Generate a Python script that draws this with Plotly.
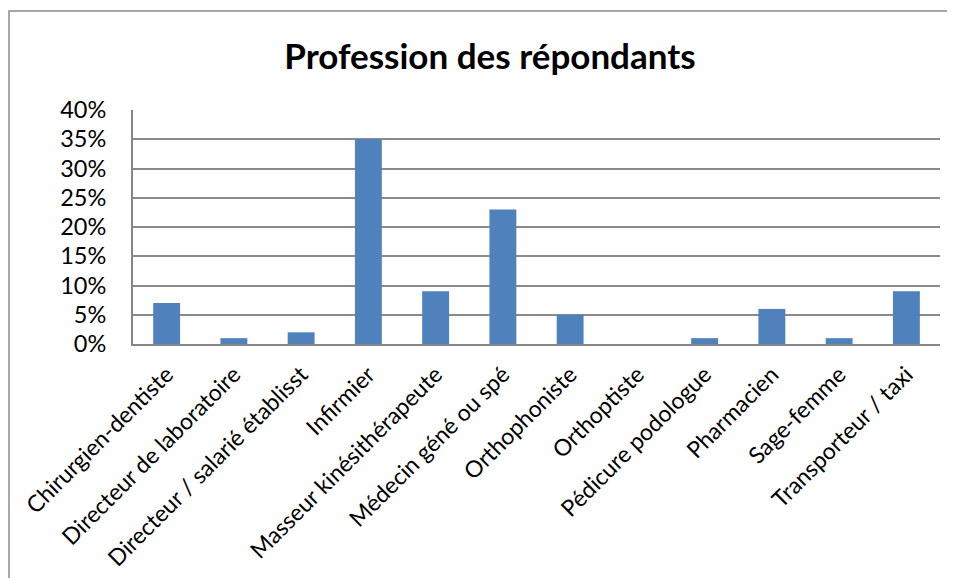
import plotly.graph_objects as go

categories = ["Chirurgien-dentiste", "Directeur de laboratoire", "Directeur / salarié établisst",
              "Infirmier", "Masseur kinésithérapeute", "Médecin géné ou spé", "Orthophoniste",
              "Orthoptiste", "Pédicure podologue", "Pharmacien", "Sage-femme", "Transporteur / taxi"]
values = [0.07, 0.01, 0.02, 0.35, 0.09, 0.23, 0.05, 0.0, 0.01, 0.06, 0.01, 0.09]
y_ticks = [0, 0.05, 0.10, 0.15, 0.20, 0.25, 0.30, 0.35, 0.40]
y_tick_labels = ["0%", "5%", "10%", "15%", "20%", "25%", "30%", "35%", "40%"]

FONT = "Lato"
OFF = 8  # page body margin
W, H = 955 - OFF, 578 - OFF
L, R, T, B = 133 - OFF, 15, 110 - OFF, 234
pw = W - L - R
ph = H - T - B

fig = go.Figure(go.Bar(
    x=categories, y=values,
    marker=dict(color="#4F81BD", line=dict(color="#7da1d4", width=0)),
))

fig.update_layout(
    width=W, height=H,
    margin=dict(l=L, r=R, t=T, b=B),
    paper_bgcolor="white", plot_bgcolor="white",
    bargap=0.6,
    showlegend=False,
    font=dict(family=FONT, color="black", size=23),
    title=dict(text="<b>Profession des répondants</b>", x=(490 - OFF) / W, xanchor="center",
               y=1 - (57 - OFF) / H, yanchor="middle", font=dict(family=FONT, size=35, color="black")),
    xaxis=dict(tickangle=-45, showline=True, linecolor="#868686", linewidth=2,
               showgrid=False, ticks="", tickfont=dict(size=23), automargin=False,
               ticklabelstandoff=6),
    yaxis=dict(range=[0, 0.4], tickvals=y_ticks, ticktext=y_tick_labels,
               showline=True, linecolor="#868686", linewidth=2,
               showgrid=True, gridcolor="#8a8a8a", gridwidth=1.5,
               ticks="", tickfont=dict(size=23.5), automargin=False, zeroline=False,
               ticklabelstandoff=20),
    shapes=[dict(type="rect", xref="paper", yref="paper",
                 x0=(1 - L) / pw, x1=(W + 20 - L) / pw,
                 y0=-(H + 20 - T - ph) / ph, y1=(H - B - (11 - OFF)) / ph,
                 line=dict(color="#8a8a8a", width=1.5), fillcolor="rgba(0,0,0,0)", layer="below")],
)

fig.write_html("out.html")
